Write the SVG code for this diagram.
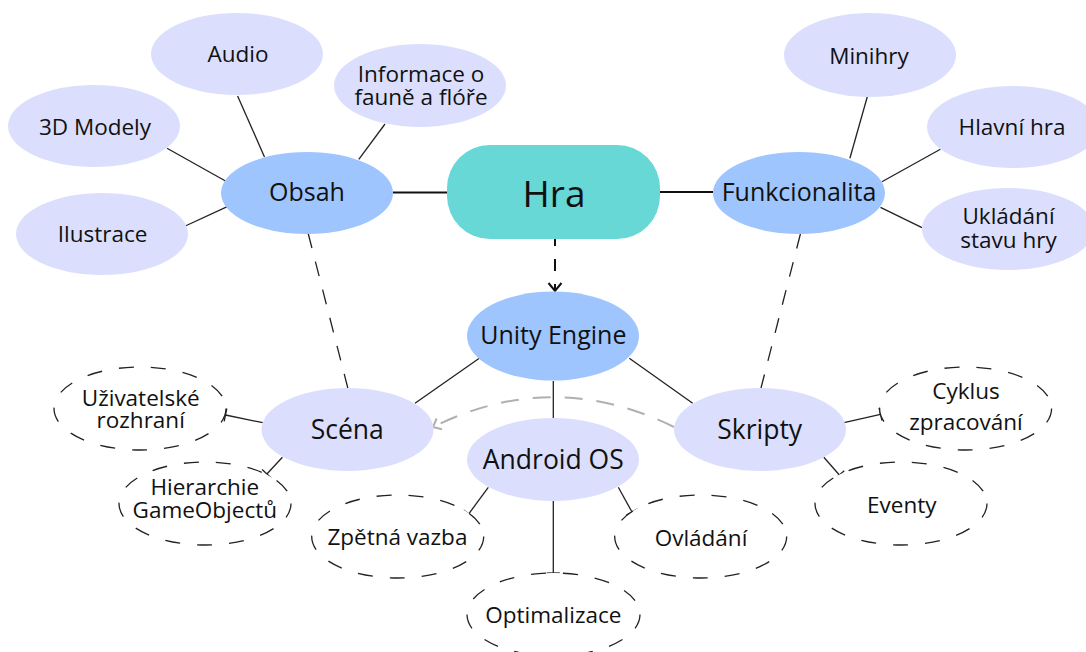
<svg xmlns="http://www.w3.org/2000/svg" width="1086" height="652" viewBox="0 0 1086 652">
<style>
.main{fill:#67d8d6}
.mid{fill:#9ec5fe}
.sub{fill:#dbdffd}
.dsh{fill:#fff;stroke:#222;stroke-width:1.3;stroke-dasharray:15 17}
.ln{stroke:#222;stroke-width:1.3;fill:none}
.thick{stroke:#111;stroke-width:2.2;fill:none}
.tb{marker-end:url(#tbar)}
text{font-family:"Open Sans","Noto Sans","DejaVu Sans",sans-serif;fill:#111;text-anchor:middle}
.t37{font-size:37px}
.t25{font-size:25px}
.t26{font-size:26.5px}
.t22{font-size:22.5px}
</style>
<defs>
<marker id="tbar" markerUnits="userSpaceOnUse" viewBox="-8 -8 16 16" markerWidth="16" markerHeight="16" refX="0" refY="0" orient="auto"><path d="M0,-6.5 L0,6.5" stroke="#222" stroke-width="1.3" fill="none"/></marker>
<marker id="chev" markerUnits="userSpaceOnUse" viewBox="-10 -10 20 20" markerWidth="20" markerHeight="20" refX="0" refY="0" orient="auto"><path d="M-8,-6.5 L0,0 L-8,6.5" stroke="#111" stroke-width="2" fill="none"/></marker>
<marker id="chevg" markerUnits="userSpaceOnUse" viewBox="-10 -10 20 20" markerWidth="20" markerHeight="20" refX="0" refY="0" orient="auto"><path d="M-7,-6 L0,0 L-7,6" stroke="#b0b0b0" stroke-width="2" fill="none"/></marker>
</defs>
<rect width="1086" height="652" fill="#fff"/>
<g id="connectors">
<line class="thick" x1="393" y1="192.5" x2="447" y2="192.5"/>
<line class="thick" x1="660" y1="192" x2="713" y2="192"/>
<line class="ln" x1="264.5" y1="157" x2="237.6" y2="96"/>
<line class="ln" x1="358.8" y1="159.3" x2="385" y2="124"/>
<line class="ln" x1="225.5" y1="181" x2="167" y2="148.3"/>
<line class="ln" x1="227.3" y1="206.7" x2="185.3" y2="226"/>
<line class="ln" x1="849.9" y1="158.3" x2="867.3" y2="96.7"/>
<line class="ln" x1="881.9" y1="181.7" x2="940.4" y2="149.3"/>
<line class="ln" x1="880.5" y1="207.3" x2="922" y2="227.7"/>
<line class="ln" x1="308.2" y1="233.5" x2="347.8" y2="388" stroke-dasharray="15 14"/>
<line class="ln" x1="800.4" y1="234" x2="761" y2="388" stroke-dasharray="15 14"/>
<line x1="555" y1="239" x2="555" y2="291" stroke="#111" stroke-width="2" stroke-dasharray="12 13" stroke-dashoffset="5" marker-end="url(#chev)"/>
<line class="ln" x1="479.3" y1="358.3" x2="415" y2="403.3"/>
<line class="ln" x1="629.3" y1="358.3" x2="692.7" y2="403.3"/>
<line class="ln" x1="553.3" y1="381" x2="553.3" y2="418"/>
<path d="M674,427 Q553,367.5 433,427" fill="none" stroke="#b0b0b0" stroke-width="2" stroke-dasharray="18 14" marker-end="url(#chevg)"/>
<line class="ln tb" x1="262.7" y1="422.7" x2="225.5" y2="415"/>
<line class="ln tb" x1="282.4" y1="457.3" x2="266.9" y2="474"/>
<line class="ln tb" x1="488.3" y1="487.3" x2="468.8" y2="513.8"/>
<line class="ln tb" x1="553.3" y1="501" x2="553.3" y2="573"/>
<line class="ln tb" x1="618.3" y1="487.3" x2="632" y2="512"/>
<line class="ln tb" x1="844" y1="422.7" x2="880.5" y2="414.3"/>
<line class="ln tb" x1="823.8" y1="457.3" x2="839.4" y2="475"/>
</g>
<g id="n-hra"><rect class="main" x="447" y="145" width="213" height="94" rx="43"/><text class="t37" x="554" y="207">Hra</text></g>
<g id="n-obsah"><ellipse class="mid" cx="307" cy="193" rx="86" ry="41"/><text class="t25" x="307" y="201">Obsah</text></g>
<g id="n-audio"><ellipse class="sub" cx="237" cy="54" rx="86" ry="41"/><text class="t22" x="238" y="62">Audio</text></g>
<g id="n-informace"><ellipse class="sub" cx="420" cy="85.5" rx="86" ry="41.5"/><text class="t22"><tspan x="421" y="81.5">Informace o</tspan><tspan x="421" y="104.5">fauně a flóře</tspan></text></g>
<g id="n-3d"><ellipse class="sub" cx="94" cy="126" rx="86" ry="41"/><text class="t22" x="95" y="134.5">3D Modely</text></g>
<g id="n-ilustrace"><ellipse class="sub" cx="102" cy="234" rx="86" ry="41"/><text class="t22" x="102.5" y="242">Ilustrace</text></g>
<g id="n-funkcionalita"><ellipse class="mid" cx="799" cy="193" rx="86" ry="41"/><text class="t25" x="799" y="201">Funkcionalita</text></g>
<g id="n-minihry"><ellipse class="sub" cx="870" cy="55" rx="86" ry="42"/><text class="t22" x="869" y="63.5">Minihry</text></g>
<g id="n-hlavni"><ellipse class="sub" cx="1013" cy="127" rx="86" ry="41"/><text class="t22" x="1012" y="135">Hlavní hra</text></g>
<g id="n-ukladani"><ellipse class="sub" cx="1008" cy="229" rx="86" ry="41"/><text class="t22"><tspan x="1008.5" y="224">Ukládání</tspan><tspan x="1008.5" y="247.5">stavu hry</tspan></text></g>
<g id="n-unity"><ellipse class="mid" cx="553" cy="336" rx="86" ry="44.5"/><text class="t25" x="553.3" y="343.5">Unity Engine</text></g>
<g id="n-scena"><ellipse class="sub" cx="347.5" cy="429.5" rx="86" ry="41.5"/><text class="t26" x="347.3" y="438.5">Scéna</text></g>
<g id="n-android"><ellipse class="sub" cx="553" cy="459.5" rx="86" ry="41.5"/><text class="t26" x="553.3" y="469">Android OS</text></g>
<g id="n-skripty"><ellipse class="sub" cx="760" cy="429.5" rx="86" ry="41.5"/><text class="t26" x="759.7" y="438.5">Skripty</text></g>
<g id="n-uzivatelske"><ellipse class="dsh" cx="140" cy="408.5" rx="86" ry="41.5"/><text class="t22"><tspan x="140.7" y="406">Uživatelské</tspan><tspan x="140.7" y="428.3">rozhraní</tspan></text></g>
<g id="n-hierarchie"><ellipse class="dsh" cx="205" cy="503.5" rx="86" ry="41.5"/><text class="t22"><tspan x="204.8" y="495">Hierarchie</tspan><tspan x="204.8" y="518.3">GameObjectů</tspan></text></g>
<g id="n-zpetna"><ellipse class="dsh" cx="397.7" cy="536.5" rx="86" ry="41.5"/><text class="t22" x="397.4" y="545">Zpětná vazba</text></g>
<g id="n-optimalizace"><ellipse class="dsh" cx="553.5" cy="614.5" rx="86.5" ry="41.5"/><text class="t22" x="553.3" y="623.3">Optimalizace</text></g>
<g id="n-ovladani"><ellipse class="dsh" cx="700.7" cy="536.5" rx="86" ry="41.5"/><text class="t22" x="701" y="545.7">Ovládání</text></g>
<g id="n-cyklus"><ellipse class="dsh" cx="965.6" cy="408.5" rx="86" ry="41.5"/><text class="t22"><tspan x="966" y="399.3">Cyklus</tspan><tspan x="966" y="430">zpracování</tspan></text></g>
<g id="n-eventy"><ellipse class="dsh" cx="901" cy="503.5" rx="86" ry="41.5"/><text class="t22" x="901.8" y="513.3">Eventy</text></g>
</svg>
